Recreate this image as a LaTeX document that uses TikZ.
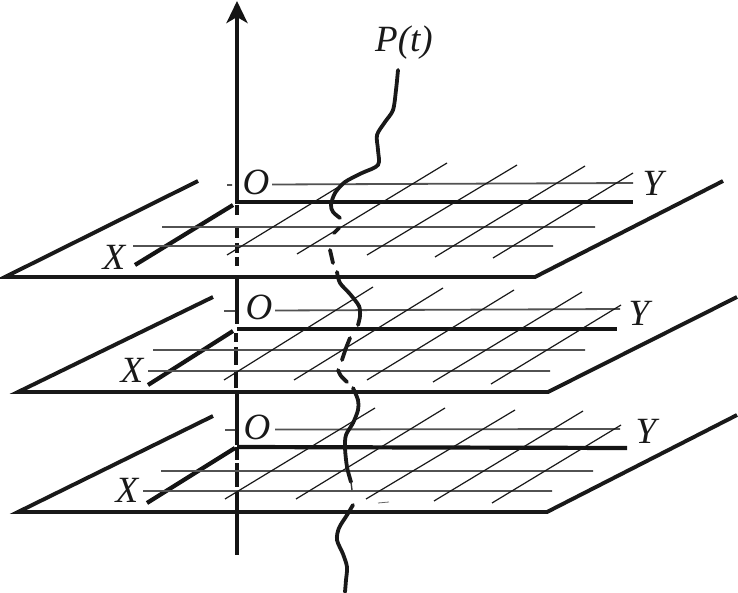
\documentclass[tikz,border=0pt]{standalone}
\usepackage{fontspec}
\setmainfont{Liberation Serif}
\usetikzlibrary{arrows.meta}
\tikzset{
  edgeline/.style={line width=3.9pt,black!90},
  axisline/.style={line width=4.2pt,black!92},
  gridh/.style={line width=1.8pt,black!68},
  gridd/.style={line width=1.2pt,black!90},
  pathline/.style={line width=3.8pt,black!90,line cap=round},
  lbl/.style={font=\fontsize{37}{37}\selectfont\itshape,inner sep=0pt,text=black!90}
}
\begin{document}
\begin{tikzpicture}[x=1pt,y=-1pt]
\useasboundingbox (0,0) rectangle (738,593);
% vertical axis
\draw[axisline,-{Stealth[length=22pt,width=21pt,inset=6pt]}] (237,204) -- (237,1);
\draw[axisline] (237,205) -- (237,215) (237,227) -- (237,238) (237,243) -- (237,253) (237,257) -- (237,266) (237,277) -- (237,324);
\draw[axisline] (236,333) -- (236,342) (236,347) -- (236,365) (236,372) -- (236,388) (237,392) -- (237,445);
\draw[axisline] (237,447) -- (237,460) (237,463) -- (237,487) (237,490) -- (237,555);
% plane 1
\draw[edgeline] (198,181) -- (5,277) -- (535,277) -- (723,181);
\draw[axisline] (237,202) -- (633,202);
\draw[axisline] (135,265) -- (233,205);
\draw[gridh] (227,185) -- (232,185) (272,184.5) -- (633,183) (162,227) -- (595,227) (133,246) -- (553,246);
\draw[gridd] (227,255) -- (345,183) (297,254) -- (447,163) (367,255) -- (517,165) (435,257) -- (585,166) (493,258) -- (633,173);
% plane 2
\draw[edgeline] (213,297) -- (18,392) -- (548,392) -- (737,297);
\draw[axisline] (237,329) -- (617,329);
\draw[axisline] (148,385) -- (233,331);
\draw[gridh] (224,311) -- (235,311) (275,310.5) -- (620,309) (153,350) -- (585,350) (148,371) -- (550,371);
\draw[gridd] (224,380) -- (373,287) (294,380) -- (443,288) (367,380) -- (514,290) (433,382) -- (582,292) (491,384) -- (621,305);
% plane 3
\draw[edgeline] (213,416) -- (18,512) -- (547,512) -- (737,415);
\draw[axisline] (237,447) -- (627,448);
\draw[axisline] (147,503) -- (235,448);
\draw[gridh] (225,430) -- (235,430) (275,429.5) -- (620,429) (161,471) -- (593,471) (143,491) -- (552,491);
\draw[gridd] (225,499) -- (375,408) (296,499) -- (445,408) (366,499) -- (515,410) (434,501) -- (583,411) (492,503) -- (621,425);
\draw[line width=0.8pt,black!60] (378,503) -- (389,502);
% curve P(t)
\draw[pathline] plot[smooth,tension=0.5] coordinates {(398,70) (396,90) (393,110) (385,122) (377,135) (378,150) (378,165) (362,173) (345,182) (335,193) (331,205) (333,212) (340,218)};
\draw[pathline] plot[smooth] coordinates {(339,228) (334,233)};
\draw[pathline] plot[smooth] coordinates {(330,250) (333,263)};
\draw[pathline] plot[smooth] coordinates {(337,272) (340,283) (350,294) (359,306) (360,316) (358,325)};
\draw[pathline] plot[smooth] coordinates {(350,338) (346,348) (342,360)};
\draw[pathline] plot[smooth] coordinates {(338,370) (341,376) (347,382)};
\draw[pathline] plot[smooth] coordinates {(353,388) (358,400) (358,410) (353,423) (346,435) (345,448) (347,467) (351,482)};
\draw[line width=1.4pt,black!80] (351,482) -- (352,490);
\draw[pathline] plot[smooth] coordinates {(353,505) (347,515) (339,528) (337,540) (343,554) (347,567) (346,580) (345,592)};
% labels
\node[lbl] (o1) at (256,182) {O};
\node[lbl] (x1) at (114,257) {X};
\node[lbl] (y1) at (653,183) {Y};
\node[lbl] (o2) at (259,307) {O};
\node[lbl] (x2) at (132,370) {X};
\node[lbl] (y2) at (639,313) {Y};
\node[lbl] (o3) at (257,427) {O};
\node[lbl] (x3) at (127,490) {X};
\node[lbl] (y3) at (646,431) {Y};
\node[lbl] (p) at (404,43) {P(t)};
\end{tikzpicture}
\end{document}
